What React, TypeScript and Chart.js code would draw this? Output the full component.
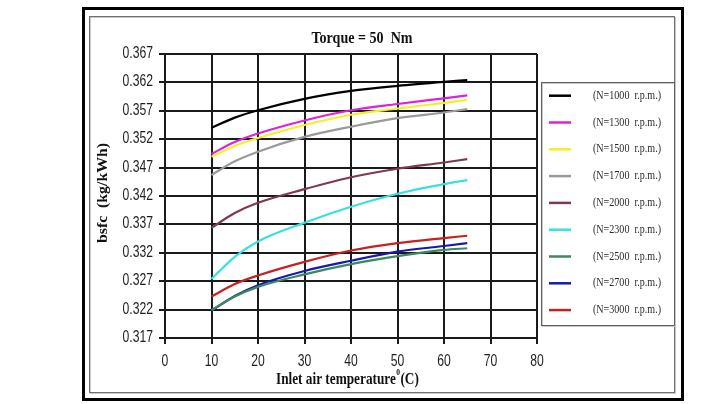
import React, { useEffect, useRef } from "react";
import { Chart, registerables } from "chart.js";

Chart.register(...registerables);

const temps = [10, 15, 20, 30, 40, 50, 60, 65];
const seriesNames = [
  "(N=1000  r.p.m.)",
  "(N=1300  r.p.m.)",
  "(N=1500  r.p.m.)",
  "(N=1700  r.p.m.)",
  "(N=2000  r.p.m.)",
  "(N=2300  r.p.m.)",
  "(N=2500  r.p.m.)",
  "(N=2700  r.p.m.)",
  "(N=3000  r.p.m.)",
];
const n1000 = [0.354, 0.3558, 0.3571, 0.3591, 0.3605, 0.3614, 0.3621, 0.3624];
const n1300 = [0.3494, 0.3515, 0.353, 0.3553, 0.3571, 0.3582, 0.3592, 0.3597];
const n1500 = [0.3489, 0.3508, 0.3522, 0.3545, 0.3563, 0.3574, 0.3584, 0.3589];
const n1700 = [0.3457, 0.3481, 0.3498, 0.3524, 0.3542, 0.3557, 0.3567, 0.3573];
const n2000 = [0.3364, 0.339, 0.3408, 0.3432, 0.3453, 0.3468, 0.3479, 0.3485];
const n2300 = [0.3274, 0.3313, 0.334, 0.3373, 0.3401, 0.3424, 0.3441, 0.3448];
const n2500 = [0.3219, 0.3243, 0.326, 0.3282, 0.33, 0.3314, 0.3325, 0.3328];
const n2700 = [0.3218, 0.3244, 0.3263, 0.3288, 0.3306, 0.3322, 0.3332, 0.3337];
const n3000 = [0.3243, 0.3265, 0.328, 0.3304, 0.3324, 0.3337, 0.3346, 0.335];
const seriesValues = [n1000, n1300, n1500, n1700, n2000, n2300, n2500, n2700, n3000];
const seriesColors = [
  "#000000",
  "#e020e0",
  "#f4f020",
  "#9a9a9a",
  "#80384f",
  "#38e0e0",
  "#3a8a5c",
  "#1818b0",
  "#c82020",
];
const yTickValues = [0.317, 0.322, 0.327, 0.332, 0.337, 0.342, 0.347, 0.352, 0.357, 0.362, 0.367];
const xTickValues = [0, 10, 20, 30, 40, 50, 60, 70, 80];

const titleText = "Torque = 50  Nm";
const yTitleText = "bsfc  (kg/kWh)";
const xTitleMain = "Inlet air temperature";

const W = 702;
const H = 404;
const SERIF = "'Liberation Serif', 'DejaVu Serif', serif";
const SANS = "'Liberation Sans', Arial, sans-serif";

function fitText(ctx: CanvasRenderingContext2D, text: string, cx: number, cy: number, width: number) {
  const m = ctx.measureText(text).width;
  const s = width / m;
  ctx.save();
  ctx.translate(cx, cy);
  ctx.scale(s, 1);
  ctx.textAlign = "center";
  ctx.textBaseline = "middle";
  ctx.fillText(text, 0, 0);
  ctx.restore();
}

function scaledText(ctx: CanvasRenderingContext2D, text: string, x: number, y: number, sx: number, align: "left" | "right" | "center") {
  ctx.save();
  ctx.translate(x, y);
  ctx.scale(sx, 1);
  ctx.textAlign = align;
  ctx.textBaseline = "middle";
  ctx.fillText(text, 0, 0);
  ctx.restore();
}

const framePlugin = {
  id: "frame",
  beforeDraw(chart: any) {
    const ctx = chart.ctx as CanvasRenderingContext2D;
    ctx.save();
    ctx.fillStyle = "#fff";
    ctx.fillRect(0, 0, W, H);
    ctx.strokeStyle = "#000";
    ctx.lineWidth = 3;
    ctx.strokeRect(83.5, 8.5, 599, 391);
    ctx.lineWidth = 1;
    ctx.strokeStyle = "#c8c8c8";
    ctx.strokeRect(90.5, 17.5, 585, 376);
    ctx.strokeStyle = "#707070";
    ctx.strokeRect(89.5, 16.5, 585, 376);
    ctx.restore();
  },
  afterDraw(chart: any) {
    const ctx = chart.ctx as CanvasRenderingContext2D;
    const xs = chart.scales.x;
    const ys = chart.scales.y;
    ctx.save();
    ctx.fillStyle = "#1e1e1e";
    // tick labels
    ctx.font = `16px ${SANS}`;
    yTickValues.forEach((v) => {
      scaledText(ctx, v.toFixed(3), 153, ys.getPixelForValue(v) - 0.5, 0.76, "right");
    });
    xTickValues.forEach((v) => {
      scaledText(ctx, String(v), xs.getPixelForValue(v), 362, 0.76, "center");
    });

    ctx.fillStyle = "#111";
    // title
    ctx.font = `bold 16px ${SERIF}`;
    fitText(ctx, titleText, 362, 39, 101);
    // y title
    ctx.save();
    ctx.translate(103, 193);
    ctx.rotate(-Math.PI / 2);
    ctx.font = `bold 15px ${SERIF}`;
    fitText(ctx, yTitleText, 0, 0, 100);
    ctx.restore();
    // x title
    ctx.font = `bold 16px ${SERIF}`;
    const mainW = ctx.measureText(xTitleMain).width;
    const tailW = ctx.measureText("(C)").width;
    ctx.font = `bold 9px ${SERIF}`;
    const supW = ctx.measureText("0").width;
    const total = mainW + supW + tailW;
    const s = 142 / total;
    ctx.save();
    ctx.translate(276, 380);
    ctx.scale(s, 1);
    ctx.textBaseline = "middle";
    ctx.textAlign = "left";
    ctx.font = `bold 16px ${SERIF}`;
    ctx.fillText(xTitleMain, 0, 0);
    ctx.font = `bold 9px ${SERIF}`;
    ctx.fillText("0", mainW + 0.5, -7);
    ctx.font = `bold 16px ${SERIF}`;
    ctx.fillText("(C)", mainW + supW + 1, 0);
    ctx.restore();

    // legend
    ctx.fillStyle = "#fff";
    ctx.fillRect(541, 82, 133, 243);
    ctx.strokeStyle = "#c8c8c8";
    ctx.strokeRect(542.5, 83.5, 133, 243);
    ctx.strokeStyle = "#606060";
    ctx.strokeRect(541.5, 82.5, 133, 243);
    ctx.font = `12px ${SERIF}`;
    chart.data.datasets.forEach((ds: any, i: number) => {
      const y = 95.7 + i * 26.8;
      ctx.strokeStyle = ds.borderColor;
      ctx.lineWidth = 2.5;
      ctx.beginPath();
      ctx.moveTo(549, y);
      ctx.lineTo(571, y);
      ctx.stroke();
      ctx.fillStyle = "#2a2a2a";
      const tw = ctx.measureText(ds.label).width;
      scaledText(ctx, ds.label, 593, y, 68 / tw, "left");
    });
    ctx.restore();
  },
};

export default function App() {
  const ref = useRef<HTMLCanvasElement | null>(null);
  useEffect(() => {
    if (!ref.current) return;
    const datasets = seriesNames.map((name, i) => ({
      label: name,
      data: temps.map((t, j) => ({ x: t, y: seriesValues[i][j] })),
      borderColor: seriesColors[i],
      backgroundColor: seriesColors[i],
      borderWidth: 2.2,
      pointRadius: 0,
      fill: false,
      cubicInterpolationMode: "monotone" as const,
    }));
    const chart = new Chart(ref.current, {
      type: "line",
      data: { datasets },
      options: {
        animation: false,
        responsive: false,
        devicePixelRatio: 1,
        layout: { padding: { left: 0, right: 165, top: 54, bottom: 0 } },
        plugins: { legend: { display: false }, tooltip: { enabled: false }, title: { display: false } },
        scales: {
          x: {
            type: "linear",
            min: 0,
            max: 80,
            afterBuildTicks: (scale: any) => {
              scale.ticks = xTickValues.map((v) => ({ value: v }));
            },
            afterFit: (scale: any) => {
              scale.height = 66;
            },
            grid: { color: "#1a1a1a", lineWidth: 2, tickLength: 6, drawTicks: true },
            border: { color: "#1a1a1a", width: 2 },
            ticks: { display: false },
          },
          y: {
            type: "linear",
            min: 0.317,
            max: 0.367,
            afterBuildTicks: (scale: any) => {
              scale.ticks = yTickValues.map((v) => ({ value: v }));
            },
            afterFit: (scale: any) => {
              scale.width = 165;
            },
            grid: { color: "#1a1a1a", lineWidth: 2, tickLength: 6, drawTicks: true },
            border: { color: "#1a1a1a", width: 2 },
            ticks: { display: false },
          },
        },
      },
      plugins: [framePlugin],
    } as any);
    return () => chart.destroy();
  }, []);
  return (
    <div style={{ position: "fixed", left: 0, top: 0, width: W, height: H, background: "#fff" }}>
      <canvas ref={ref} width={W} height={H} style={{ width: W, height: H, display: "block" }} />
    </div>
  );
}
